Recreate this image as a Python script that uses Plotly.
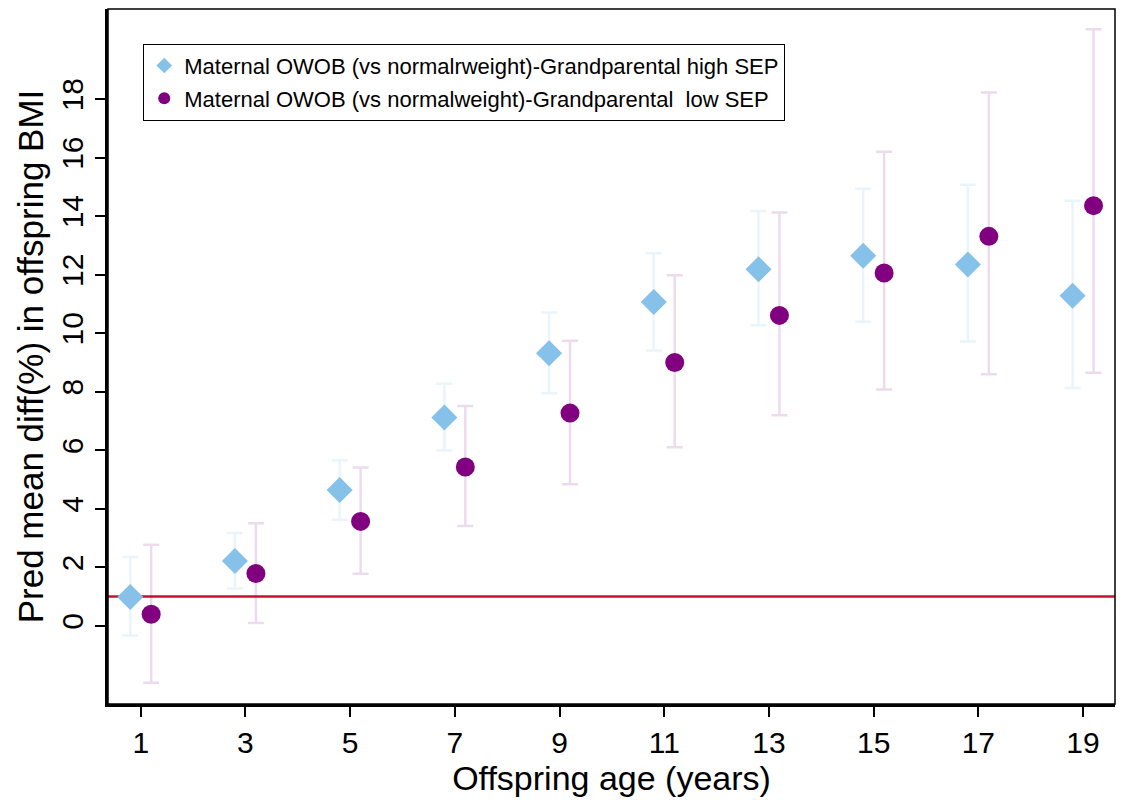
import plotly.graph_objects as go

ages = [1, 3, 5, 7, 9, 11, 13, 15, 17, 19]

high_est = [0.99, 2.22, 4.64, 7.12, 9.32, 11.07, 12.19, 12.65, 12.35, 11.28]
high_lo = [-0.33, 1.28, 3.63, 5.99, 7.95, 9.41, 10.27, 10.39, 9.72, 8.13]
high_hi = [2.35, 3.17, 5.66, 8.27, 10.71, 12.73, 14.18, 14.94, 15.07, 14.53]

low_est = [0.40, 1.79, 3.57, 5.43, 7.27, 9.00, 10.61, 12.06, 13.31, 14.36]
low_lo = [-1.94, 0.10, 1.78, 3.41, 4.84, 6.10, 7.20, 8.08, 8.60, 8.65]
low_hi = [2.77, 3.51, 5.41, 7.51, 9.74, 11.98, 14.13, 16.20, 18.23, 20.39]

x_ticks = [1, 3, 5, 7, 9, 11, 13, 15, 17, 19]
y_ticks = [0, 2, 4, 6, 8, 10, 12, 14, 16, 18]
ref_value = 1

name_high = "Maternal OWOB (vs normalrweight)-Grandparental high SEP"
name_low = "Maternal OWOB (vs normalweight)-Grandparental  low SEP"

FONT = "Liberation Sans, Arial, sans-serif"

fig = go.Figure()

fig.add_trace(go.Scatter(
    x=[a - 0.2 for a in ages], y=high_est, mode="markers", name=name_high,
    legendgroup="g1",
    marker=dict(symbol="diamond", size=20, color="#85C1E9"),
    error_y=dict(type="data", symmetric=False,
                 array=[h - e for h, e in zip(high_hi, high_est)],
                 arrayminus=[e - l for e, l in zip(high_est, high_lo)],
                 color="rgba(133,193,233,0.18)", thickness=2.5, width=8),
))
fig.add_trace(go.Scatter(
    x=[a + 0.2 for a in ages], y=low_est, mode="markers", name=name_low,
    legendgroup="g2",
    marker=dict(symbol="circle", size=19, color="#800080"),
    error_y=dict(type="data", symmetric=False,
                 array=[h - e for h, e in zip(low_hi, low_est)],
                 arrayminus=[e - l for e, l in zip(low_est, low_lo)],
                 color="rgba(128,0,128,0.14)", thickness=2.5, width=8),
))

fig.add_shape(type="line", xref="paper", x0=0, x1=1, yref="y", y0=ref_value, y1=ref_value,
              line=dict(color="#C8102E", width=2.5), layer="below")
# thin frame on top/right
fig.add_shape(type="rect", xref="paper", yref="paper", x0=0, x1=1, y0=0, y1=1,
              line=dict(color="black", width=1.5), layer="above")

fig.update_layout(
    width=1125, height=800,
    margin=dict(l=108, r=10, t=9, b=96),
    plot_bgcolor="white", paper_bgcolor="white",
    font=dict(family=FONT, color="black"),
    showlegend=True,
    legend=dict(x=0.035, y=0.95, xanchor="left", yanchor="top",
                bordercolor="black", borderwidth=1, bgcolor="white",
                font=dict(size=22, family=FONT), itemsizing="constant",
                tracegroupgap=1),
    xaxis=dict(range=[0.375, 19.61], tickvals=x_ticks, ticktext=[str(v) for v in x_ticks],
               showgrid=False, zeroline=False, showline=True, linecolor="black", linewidth=3,
               ticks="outside", ticklen=10, tickwidth=1.5, tickcolor="black",
               tickfont=dict(size=30, family=FONT),
               title=dict(text="Offspring age (years)", font=dict(size=34, family=FONT), standoff=0)),
    yaxis=dict(range=[-2.67, 21.08], tickvals=y_ticks, ticktext=[str(v) for v in y_ticks],
               showgrid=False, zeroline=False, showline=True, linecolor="black", linewidth=3,
               ticks="outside", ticklen=10, tickwidth=1.5, tickcolor="black", tickangle=-90,
               tickfont=dict(size=30, family=FONT),
               title=dict(text="Pred mean diff(%) in offspring BMI", font=dict(size=35, family=FONT), standoff=2)),
)

fig.write_html("out.html")
